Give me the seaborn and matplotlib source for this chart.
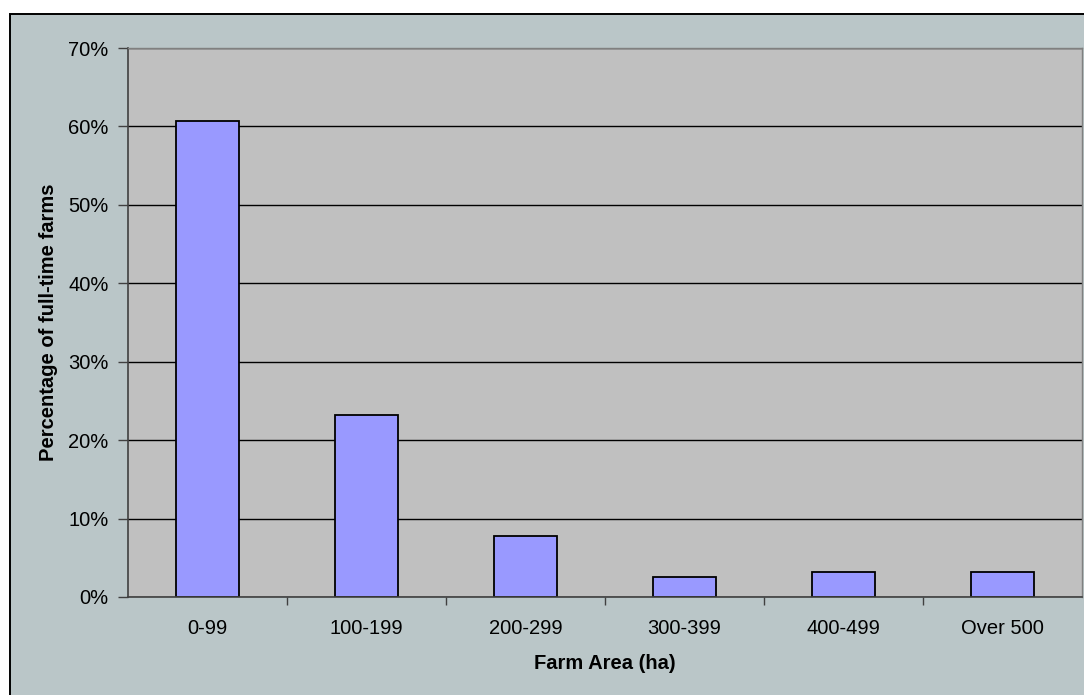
import matplotlib
matplotlib.use("Agg")
import matplotlib.pyplot as plt
import matplotlib.patches as mpatches
from matplotlib.ticker import FixedLocator, FuncFormatter
import seaborn as sns
import pandas as pd

# Share of full-time farms by farm area class
categories = ["0-99", "100-199", "200-299", "300-399", "400-499", "Over 500"]
percent_farms = [60.7, 23.2, 7.8, 2.6, 3.2, 3.2]
y_ticks = [0, 10, 20, 30, 40, 50, 60, 70]

df = pd.DataFrame({"area": categories, "pct": percent_farms})

sns.set_theme(style="white")
plt.rcParams["font.family"] = ["Liberation Sans", "DejaVu Sans"]
plt.rcParams["text.color"] = "black"
plt.rcParams["axes.labelcolor"] = "black"

W, H = 1084, 695
fig = plt.figure(figsize=(W / 100, H / 100), dpi=100, facecolor="white")

# Chart-area panel with its black frame
panel = mpatches.Rectangle((10 / W, -0.01), 1.0, (H - 14) / H + 0.01,
                           transform=fig.transFigure, facecolor="#BAC6C8",
                           edgecolor="black", linewidth=1.4, zorder=-1)
fig.patches.append(panel)

ax = fig.add_axes([128 / W, 98 / H, (1082 - 128) / W, (597 - 48) / H])
ax.set_facecolor("#C0C0C0")

sns.barplot(data=df, x="area", y="pct", ax=ax, color="#9999FF",
            edgecolor="black", linewidth=1.3, width=0.4, saturation=1)

ax.set_ylim(0, 70)
ax.set_xlim(-0.5, len(categories) - 0.5)
ax.yaxis.set_major_locator(FixedLocator(y_ticks))
ax.yaxis.set_major_formatter(FuncFormatter(lambda v, _: f"{v:.0f}%"))
ax.grid(axis="y", color="black", linewidth=1.0)
ax.set_axisbelow(True)

# Category boundaries carry the x ticks; labels sit at category centres
ax.xaxis.set_minor_locator(FixedLocator([i + 0.5 for i in range(len(categories) - 1)]))
ax.tick_params(axis="x", which="major", length=0, pad=15.5, labelsize=14.5, labelcolor="black")
ax.tick_params(axis="x", which="minor", bottom=True, length=6, width=1, color="#404040")
ax.tick_params(axis="y", which="major", left=True, length=7, width=1, color="#404040",
               pad=7, labelsize=14.5, labelcolor="black")

for side in ["left", "bottom"]:
    ax.spines[side].set_color("#404040")
    ax.spines[side].set_linewidth(1.2)
for side in ["top", "right"]:
    ax.spines[side].set_color("#808080")
    ax.spines[side].set_linewidth(1.0)

ax.set_xlabel("Farm Area (ha)", fontsize=14.5, fontweight="bold", labelpad=12, color="black")
ax.set_ylabel("Percentage of full-time farms", fontsize=14.5, fontweight="bold", labelpad=7,
              color="black")

fig.savefig("out.png", dpi=100, facecolor=fig.get_facecolor())
